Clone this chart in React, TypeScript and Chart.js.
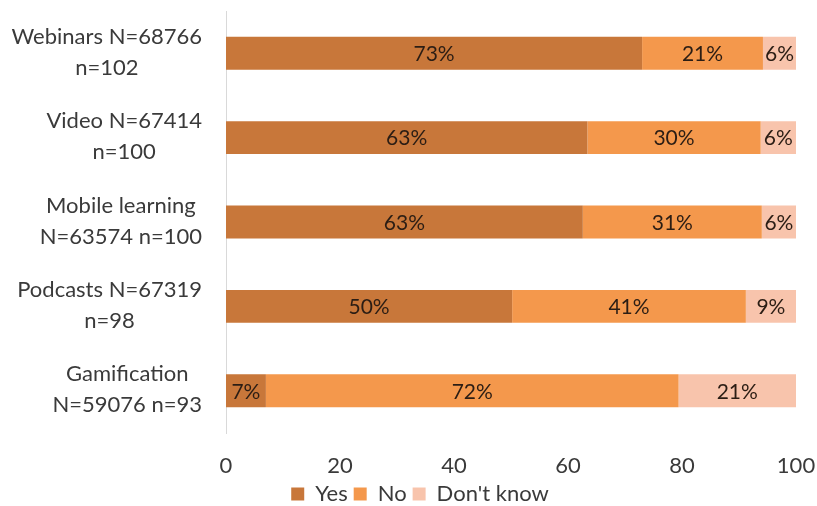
import React, { useEffect, useRef } from 'react';
import { Chart, registerables } from 'chart.js';

Chart.register(...registerables);

const categories: string[][] = [
  ['Webinars N=68766', 'n=102'],
  ['Video N=67414', 'n=100'],
  ['Mobile learning', 'N=63574 n=100'],
  ['Podcasts N=67319', 'n=98'],
  ['Gamification', 'N=59076 n=93'],
];
const yesValues = [73.0, 63.4, 62.6, 50.2, 7.0];
const noValues = [21.2, 30.4, 31.4, 41.0, 72.4];
const dontKnowValues = [5.8, 6.2, 6.0, 8.8, 20.6];
const seriesNames = ['Yes', 'No', "Don't know"];
const xTicks = [0, 20, 40, 60, 80, 100];

const FONT = 'Lato, "Open Sans", sans-serif';
const LEFT_PAD = 44;

export default function App() {
  const ref = useRef<HTMLCanvasElement | null>(null);
  useEffect(() => {
    document.body.style.margin = '0';
    const canvas = ref.current!;
    const labelPlugin = {
      id: 'segLabels',
      afterDatasetsDraw(chart: any) {
        const ctx = chart.ctx;
        ctx.save();
        ctx.font = `21px ${FONT}`;
        ctx.fillStyle = '#2b1d14';
        ctx.textAlign = 'center';
        ctx.textBaseline = 'middle';
        chart.data.datasets.forEach((ds: any, di: number) => {
          const meta = chart.getDatasetMeta(di);
          meta.data.forEach((el: any, i: number) => {
            const v = ds.data[i];
            const cx = (el.x + el.base) / 2;
            ctx.fillText(Math.round(v) + '%', cx, el.y + 1);
          });
        });
        ctx.restore();
      },
    };
    const catPlugin = {
      id: 'catLabels',
      afterDraw(chart: any) {
        const ctx = chart.ctx;
        const yScale = chart.scales.y;
        const right = chart.chartArea.left - 24;
        const lh = 31;
        ctx.save();
        ctx.font = `22px ${FONT}`;
        ctx.fillStyle = '#3a3a3a';
        ctx.textAlign = 'center';
        ctx.textBaseline = 'middle';
        categories.forEach((lines, i) => {
          const y = yScale.getPixelForValue(i);
          const maxW = Math.max(...lines.map((l) => ctx.measureText(l).width));
          const cx = right - maxW / 2;
          const top = y - (lines.length * lh) / 2;
          lines.forEach((l, k) => ctx.fillText(l, cx, top + lh * (k + 0.5) - 1));
        });
        ctx.restore();
      },
    };
    const chart = new Chart(canvas, {
      type: 'bar',
      data: {
        labels: categories.map((c) => c.join(' ')),
        datasets: [
          { label: seriesNames[0], data: yesValues, backgroundColor: '#C8773A' },
          { label: seriesNames[1], data: noValues, backgroundColor: '#F4984C' },
          { label: seriesNames[2], data: dontKnowValues, backgroundColor: '#F8C4AC' },
        ],
      },
      options: {
        indexAxis: 'y',
        responsive: false,
        animation: false,
        layout: { padding: { top: 11, right: 21, bottom: -9, left: LEFT_PAD } },
        datasets: { bar: { categoryPercentage: 1, barPercentage: 0.39 } },
        scales: {
          x: {
            stacked: true,
            min: 0,
            max: 100,
            afterBuildTicks: (s: any) => {
              s.ticks = xTicks.map((v) => ({ value: v }));
            },
            afterFit: (s: any) => {
              s.height = 44;
              s.paddingLeft = 0;
              s.paddingRight = 0;
            },
            grid: { display: false, drawTicks: false },
            border: { display: false },
            ticks: { font: { family: FONT, size: 22, lineHeight: 1 }, color: '#3a3a3a', padding: 22 },
          },
          y: {
            stacked: true,
            grid: { display: false },
            border: { display: true, color: '#d9d9d9', width: 1 },
            ticks: { display: false },
            afterFit: (s: any) => {
              s.width = 226 - LEFT_PAD;
              s.paddingTop = 0;
              s.paddingBottom = 0;
            },
          },
        },
        plugins: {
          legend: {
            position: 'bottom',
            labels: {
              font: { family: FONT, size: 22, lineHeight: 1 },
              color: '#3a3a3a',
              boxWidth: 13,
              boxHeight: 13,
              padding: 6,
            },
          },
          tooltip: { enabled: false },
        },
      },
      plugins: [labelPlugin, catPlugin],
    });
    return () => chart.destroy();
  }, []);
  return (
    <div style={{ width: 817, height: 506, background: '#fff' }}>
      <canvas ref={ref} width={817} height={506} />
    </div>
  );
}
